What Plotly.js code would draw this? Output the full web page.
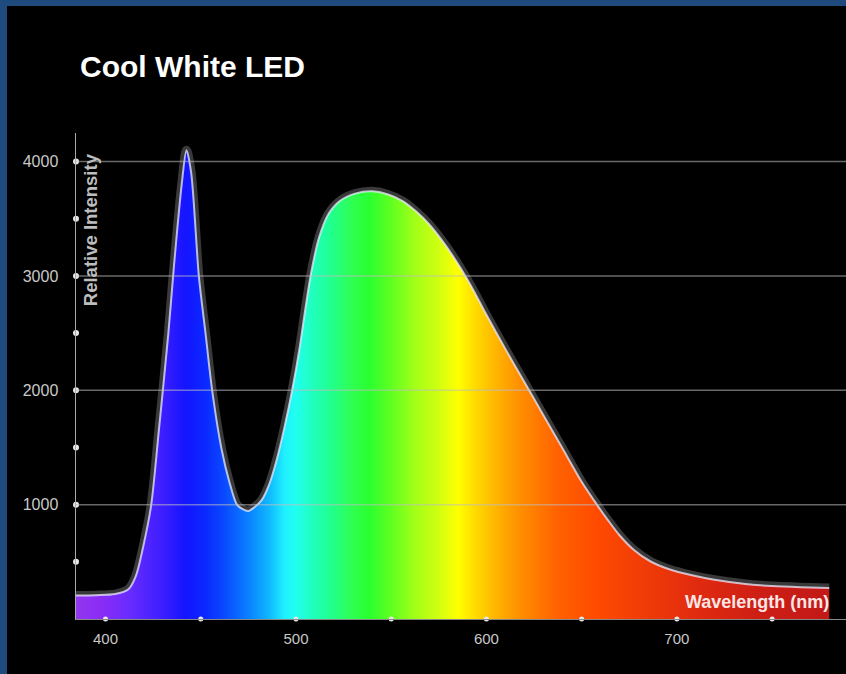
<!DOCTYPE html>
<html><head><meta charset="utf-8">
<script src="https://cdn.plot.ly/plotly-3.0.1.min.js"></script>
<style>
html,body{margin:0;padding:0;background:#1f4a7e;width:846px;height:674px;overflow:hidden}
#chart{position:absolute;left:7px;top:6px;width:839px;height:668px;background:#000}
</style>
</head><body><div id="chart"></div>
<script>
// ---- data ----
const wavelength = [384.5,395,405,412,416,420,424,428,433,436,440,442.5,445,449,452.5,456,461,465,469,472,475,478,482,486,490,494,498,502,505,508,512,517,523,531,540,548,556,563,570,578,586,593,600,610,620,630,640,650,658,664,670,677,686,696,708,719,735,750,765,780];
const intensity  = [205,208,218,260,380,650,1000,1650,2500,3100,3800,4100,3900,3000,2500,2000,1480,1200,1000,960,945,975,1040,1180,1400,1680,2000,2380,2720,3030,3330,3540,3655,3720,3740,3715,3655,3565,3450,3280,3080,2880,2660,2360,2070,1780,1490,1200,1000,860,730,610,505,435,382,345,308,288,278,272];
const yTickVals = [1000, 2000, 3000, 4000];
const yTickText = ['1000', '2000', '3000', '4000'];
const xTickVals = [400, 500, 600, 700];
const xTickText = ['400', '500', '600', '700'];
const yDotVals = [500, 1000, 1500, 2000, 2500, 3000, 3500, 4000];
const xDotVals = [400, 450, 500, 550, 600, 650, 700, 750];
const titleText = 'Cool White LED';
const yTitle = 'Relative Intensity';
const xTitle = 'Wavelength (nm)';

// ---- style ----
const xRange = [384.5, 788.8];
const yRange = [0, 4250];
const spectrum = [[384,'#9236ee'],[398,'#8a2cf6'],[412,'#6a2cff'],[430,'#3c1eff'],[442,'#1414ff'],[452,'#0a28ff'],[462,'#0a48ff'],[475,'#0a80ff'],[486,'#10b8ff'],[494,'#20f0ff'],[500,'#20fff0'],[508,'#20ffc0'],[518,'#20ff90'],[530,'#30ff50'],[538,'#28ff30'],[550,'#60ff20'],[562,'#a0ff18'],[575,'#d0ff10'],[585,'#ffff00'],[595,'#ffd800'],[603,'#ffbb00'],[617,'#ff9000'],[637,'#ff6200'],[658,'#ff4a00'],[686,'#ee3a08'],[712,'#e02a10'],[745,'#cc1e14'],[789,'#c01818']];
const span = xRange[1] - xRange[0];
const colorscale = spectrum.map(([w, c]) => [Math.min(1, Math.max(0, (w - xRange[0]) / span)), c]);
colorscale[0][0] = 0; colorscale[colorscale.length - 1][0] = 1;

const font = 'Liberation Sans, Arial, sans-serif';

const traces = [
  { x: wavelength, y: intensity, type: 'scatter', mode: 'lines',
    line: { color: 'rgba(95,95,95,0.6)', width: 9, shape: 'spline', smoothing: 0.8 },
    hoverinfo: 'skip', showlegend: false },
  { x: wavelength, y: intensity, type: 'scatter', mode: 'lines', fill: 'tozeroy',
    fillgradient: { type: 'horizontal', colorscale: colorscale, start: xRange[0], stop: xRange[1] },
    line: { color: 'rgba(235,235,255,0.75)', width: 2, shape: 'spline', smoothing: 0.8 },
    showlegend: false },
  { x: yDotVals.map(() => xRange[0]), y: yDotVals, type: 'scatter', mode: 'markers',
    marker: { color: '#e8e8e8', size: 6 }, cliponaxis: false, hoverinfo: 'skip', showlegend: false },
  { x: xDotVals, y: xDotVals.map(() => yRange[0]), type: 'scatter', mode: 'markers',
    marker: { color: '#e8e8e8', size: 5 }, cliponaxis: false, hoverinfo: 'skip', showlegend: false }
];

const shapes = yTickVals.map(v => ({
  type: 'line', xref: 'paper', x0: 0, x1: 1, yref: 'y', y0: v, y1: v, layer: 'above',
  line: { color: 'rgba(190,190,190,0.55)', width: 1.5 }
}));

const layout = {
  width: 839, height: 668,
  paper_bgcolor: '#000', plot_bgcolor: '#000',
  margin: { l: 69, r: 0, t: 127, b: 55 },
  showlegend: false,
  title: { text: '<b>' + titleText + '</b>', xref: 'container', x: 73 / 839, xanchor: 'left',
           yref: 'container', y: 1 - 60 / 668, yanchor: 'middle',
           font: { family: font, size: 30, color: '#ffffff' } },
  xaxis: { range: xRange, tickvals: xTickVals, ticktext: xTickText, showgrid: false, zeroline: false,
           showline: true, linecolor: '#888', linewidth: 1, ticks: '', ticklabelstandoff: 6,
           tickfont: { family: font, size: 15, color: '#c8c8c8' } },
  yaxis: { range: yRange, tickvals: yTickVals, ticktext: yTickText, showgrid: false, zeroline: false,
           showline: true, linecolor: '#aaa', linewidth: 1.5, ticks: '', ticklabelstandoff: 13,
           tickfont: { family: font, size: 16, color: '#c8c8c8' } },
  shapes: shapes,
  annotations: [
    { text: '<b>' + yTitle + '</b>', textangle: -90, xref: 'paper', x: 0, xshift: 14, xanchor: 'center',
      yref: 'y', y: 3400, yanchor: 'middle', showarrow: false,
      font: { family: font, size: 18.5, color: '#bdbdbd' } },
    { text: '<b>' + xTitle + '</b>', xref: 'x', x: 781, xanchor: 'right', yref: 'y', y: 150, yanchor: 'middle',
      showarrow: false, font: { family: font, size: 18, color: '#fbe6e6' } }
  ]
};

Plotly.newPlot('chart', traces, layout, { displayModeBar: false, staticPlot: true });
</script>
</body></html>
